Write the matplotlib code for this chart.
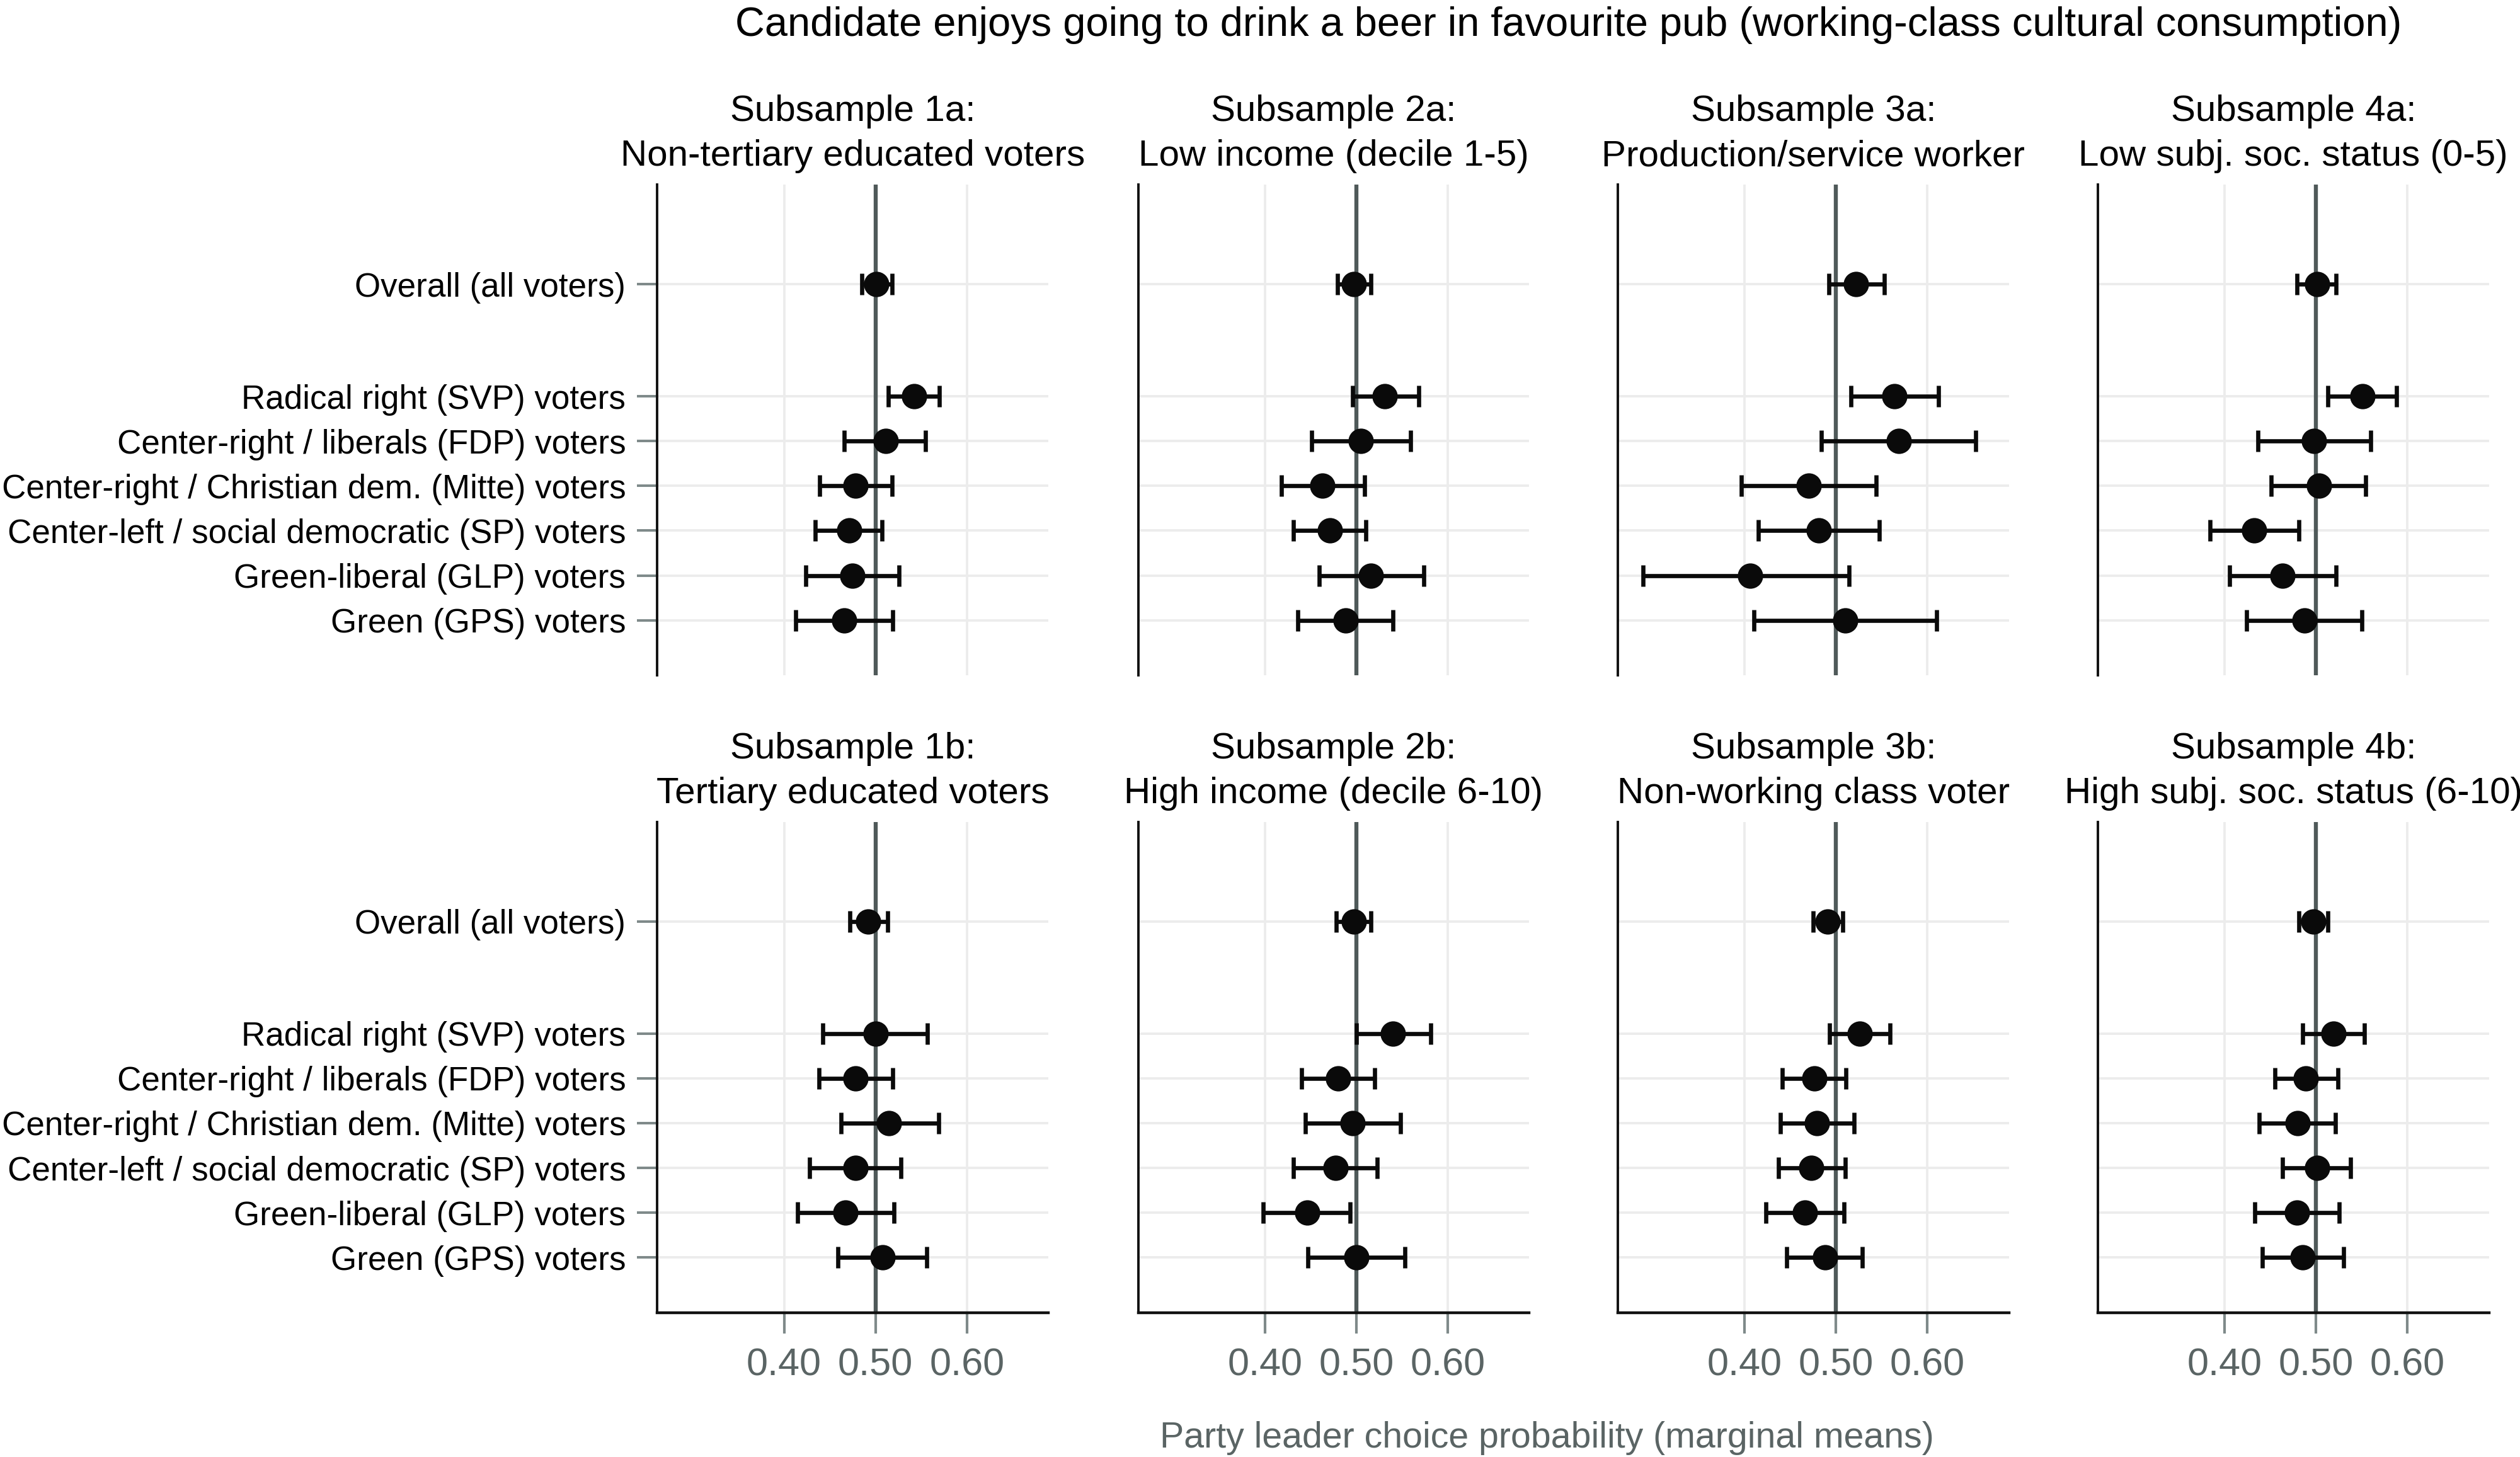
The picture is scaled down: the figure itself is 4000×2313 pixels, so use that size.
import matplotlib
matplotlib.use("Agg")
import matplotlib.pyplot as plt
import matplotlib.transforms as mtransforms

# ---------------- data ----------------
categories = ["Overall (all voters)",
              "Radical right (SVP) voters",
              "Center-right / liberals (FDP) voters",
              "Center-right / Christian dem. (Mitte) voters",
              "Center-left / social democratic (SP) voters",
              "Green-liberal (GLP) voters",
              "Green (GPS) voters"]

panel_heads = ["Subsample 1a:", "Subsample 2a:", "Subsample 3a:", "Subsample 4a:",
               "Subsample 1b:", "Subsample 2b:", "Subsample 3b:", "Subsample 4b:"]
panel_subs = ["Non-tertiary educated voters", "Low income (decile 1-5)",
              "Production/service worker", "Low subj. soc. status (0-5)",
              "Tertiary educated voters", "High income (decile 6-10)",
              "Non-working class voter", "High subj. soc. status (6-10)"]

est_1a = [0.501, 0.542, 0.511, 0.478, 0.471, 0.475, 0.466]
lo_1a  = [0.485, 0.514, 0.466, 0.439, 0.434, 0.424, 0.413]
hi_1a  = [0.518, 0.570, 0.555, 0.518, 0.507, 0.526, 0.519]

est_2a = [0.497, 0.531, 0.505, 0.463, 0.471, 0.516, 0.488]
lo_2a  = [0.479, 0.496, 0.451, 0.418, 0.431, 0.459, 0.436]
hi_2a  = [0.516, 0.568, 0.559, 0.509, 0.510, 0.574, 0.540]

est_3a = [0.522, 0.564, 0.569, 0.470, 0.481, 0.406, 0.510]
lo_3a  = [0.492, 0.516, 0.484, 0.396, 0.415, 0.289, 0.410]
hi_3a  = [0.553, 0.612, 0.653, 0.544, 0.547, 0.514, 0.610]

est_4a = [0.501, 0.551, 0.498, 0.503, 0.432, 0.463, 0.487]
lo_4a  = [0.479, 0.513, 0.436, 0.451, 0.384, 0.405, 0.424]
hi_4a  = [0.522, 0.588, 0.560, 0.554, 0.481, 0.522, 0.550]

est_1b = [0.492, 0.500, 0.478, 0.515, 0.478, 0.467, 0.508]
lo_1b  = [0.472, 0.442, 0.438, 0.462, 0.428, 0.415, 0.459]
hi_1b  = [0.513, 0.557, 0.519, 0.569, 0.528, 0.520, 0.556]

est_2b = [0.497, 0.540, 0.480, 0.496, 0.477, 0.446, 0.500]
lo_2b  = [0.478, 0.500, 0.440, 0.444, 0.431, 0.398, 0.447]
hi_2b  = [0.516, 0.581, 0.520, 0.548, 0.523, 0.493, 0.553]

est_3b = [0.491, 0.526, 0.476, 0.479, 0.473, 0.466, 0.488]
lo_3b  = [0.475, 0.493, 0.441, 0.439, 0.437, 0.423, 0.446]
hi_3b  = [0.507, 0.559, 0.511, 0.520, 0.510, 0.509, 0.529]

est_4b = [0.497, 0.519, 0.489, 0.480, 0.501, 0.479, 0.485]
lo_4b  = [0.481, 0.485, 0.455, 0.438, 0.463, 0.433, 0.441]
hi_4b  = [0.513, 0.553, 0.524, 0.521, 0.538, 0.525, 0.530]

x_ticks = [0.40, 0.50, 0.60]
x_tick_labels = ["0.40", "0.50", "0.60"]

title = "Candidate enjoys going to drink a beer in favourite pub (working-class cultural consumption)"
xlabel = "Party leader choice probability (marginal means)"

ests = [est_1a, est_2a, est_3a, est_4a, est_1b, est_2b, est_3b, est_4b]
los = [lo_1a, lo_2a, lo_3a, lo_4a, lo_1b, lo_2b, lo_3b, lo_4b]
his = [hi_1a, hi_2a, hi_3a, hi_4a, hi_1b, hi_2b, hi_3b, hi_4b]

# ---------------- layout ----------------
W, H = 4000, 2313
DPI = 200
REG = ["Liberation Sans", "DejaVu Sans"]
plt.rcParams["font.family"] = REG

fig = plt.figure(figsize=(W / DPI, H / DPI), dpi=DPI)
fig.patch.set_facecolor("white")

ypos = [8.5, 6, 5, 4, 3, 2, 1]
lefts_px = [1043.3, 1806.7, 2568.0, 3330.0]
width_px = 620.5
tops_px = [293.4, 1305.0]
height_px = 779.0

GRID = "#ececec"
REFC = "#4f5959"
TICKC = "#7f8a8a"
LABC = "#5a6464"

for i in range(8):
    row, col = divmod(i, 4)
    l = lefts_px[col] / W
    b = 1 - (tops_px[row] + height_px) / H
    ax = fig.add_axes([l, b, width_px / W, height_px / H])
    ax.set_xlim(0.2612, 0.689)
    ax.set_ylim(-0.231, 10.717)
    ax.set_facecolor("white")

    # grid
    for xv in x_ticks:
        ax.axvline(xv, color=GRID, lw=1.4, zorder=0)
    for yv in ypos:
        ax.axhline(yv, color=GRID, lw=1.4, zorder=0)
    ax.axvline(0.5, color=REFC, lw=2.3, zorder=1)

    e = ests[i]
    lo = los[i]
    hi = his[i]
    xerr = [[e[k] - lo[k] for k in range(7)], [hi[k] - e[k] for k in range(7)]]
    ax.errorbar(e, ypos, xerr=xerr, fmt="o", color="#0a0a0a", ms=13.5,
                elinewidth=2.4, capsize=6, capthick=2.4, zorder=3)

    for s in ["top", "right"]:
        ax.spines[s].set_visible(False)
    ax.spines["left"].set_color("#111111")
    ax.spines["left"].set_linewidth(1.4)
    if row == 1:
        ax.spines["bottom"].set_color("#111111")
        ax.spines["bottom"].set_linewidth(1.6)
        ax.set_xticks(x_ticks)
        ax.set_xticklabels(x_tick_labels, fontsize=22, color=LABC)
        ax.tick_params(axis="x", length=11.9, width=1.5, color=TICKC, pad=8)
    else:
        ax.spines["bottom"].set_visible(False)
        ax.set_xticks([])
    if col == 0:
        ax.set_yticks(ypos)
        ax.set_yticklabels(categories, fontsize=19.1, color="black")
        ax.tick_params(axis="y", length=11.5, width=1.45, color=TICKC, pad=6.5)
    else:
        ax.set_yticks([])

    # panel titles
    tr = mtransforms.blended_transform_factory(ax.transAxes, fig.transFigure)
    top = tops_px[row]
    ax.text(0.5, 1 - (top - 30) / H, panel_subs[i], transform=tr, ha="center",
            va="baseline", fontsize=21, color="black")
    ax.text(0.5, 1 - (top - 101) / H, panel_heads[i], transform=tr, ha="center",
            va="baseline", fontsize=21, color="black")

fig.text(2490 / W, 1 - 57 / H, title, ha="center", va="baseline", fontsize=23.4,
         color="black")
fig.text(2455 / W, 1 - 2298 / H, xlabel, ha="center", va="baseline",
         fontsize=20.6, color=LABC)

fig.savefig("out.png", dpi=DPI, facecolor="white")
